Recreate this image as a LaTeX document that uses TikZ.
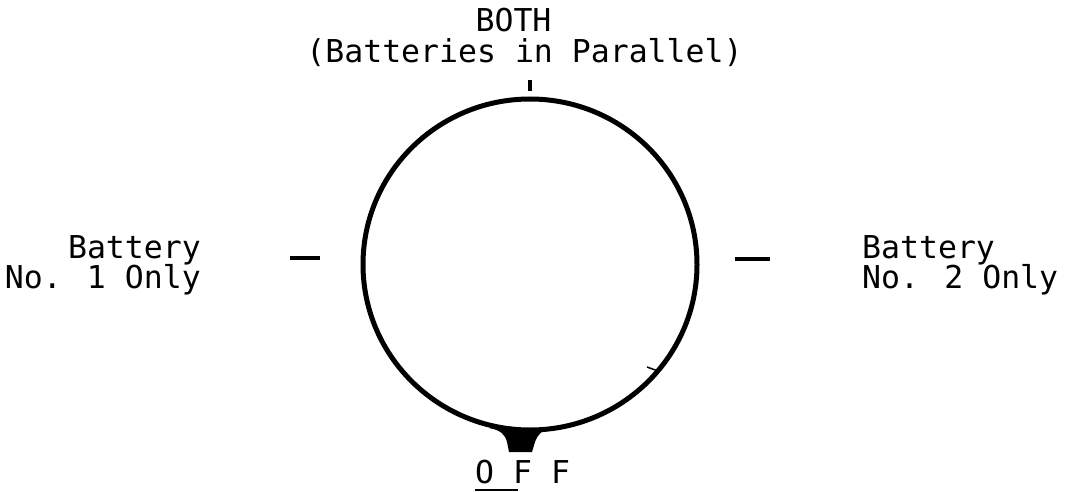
\documentclass[tikz,border=0pt]{standalone}
\usepackage{fontspec}
\newfontfamily\monofnt{DejaVu Sans Mono}
\begin{document}
\begin{tikzpicture}[x=1pt,y=-1pt,
  lbl/.style={font=\monofnt\fontsize{31.5}{30}\selectfont, inner sep=0pt},
  tick/.style={line width=3.5pt},
  ring/.style={line width=5pt}]
\useasboundingbox[fill=white] (0,0) rectangle (1068,492);
% dial
\draw[ring] (530,264.5) ellipse [x radius=167, y radius=165.5];
% OFF pointer blob
\fill (489,428) .. controls (500,430) and (505,434) .. (507,442)
  -- (509,452) -- (532,452) -- (535,442)
  .. controls (538,434) and (542,430) .. (551,428) -- cycle;
% ticks
\draw[tick] (290,258) -- (320,258);
\draw[tick] (735,259) -- (770,259);
\draw[line width=4.5pt] (530,80) -- (530,91);
\draw[line width=1.5pt] (647,367) -- (658,371);
% labels
\node[lbl, anchor=base] (both) at (513.5,32) {BOTH};
\node[lbl, anchor=base] (par) at (524.5,63) {(Batteries in Parallel)};
\node[lbl, anchor=base east] (l1) at (201,258) {Battery};
\node[lbl, anchor=base east] (l2) at (201,288) {No. 1 Only};
\node[lbl, anchor=base west] (r1) at (862,258) {Battery};
\node[lbl, anchor=base west] (r2) at (862,288) {No. 2 Only};
\node[lbl, anchor=base west] (off) at (475,483) {O F F};
\draw[line width=1.5pt] (475,490) -- (518,490);
\end{tikzpicture}
\end{document}
